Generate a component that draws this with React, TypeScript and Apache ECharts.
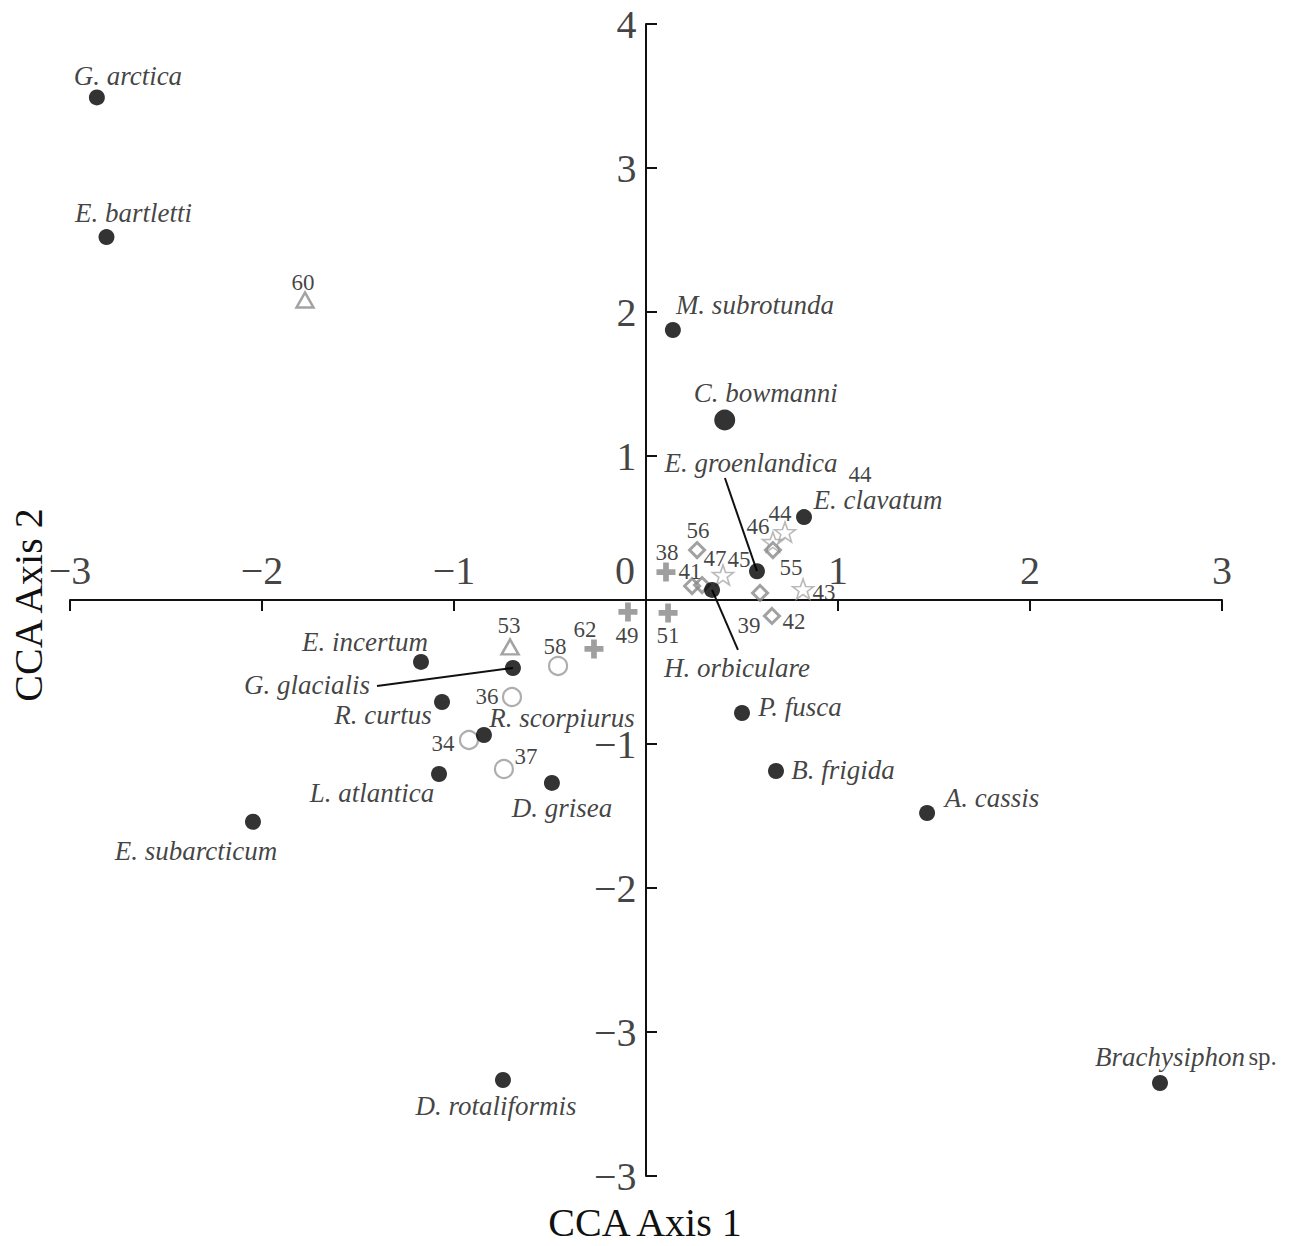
import React, { useEffect, useRef } from 'react';
import * as echarts from 'echarts';

// ---- axis ticks ----
const X_TICKS = [-3, -2, -1, 0, 1, 2, 3];
const X_TICK_LABELS = ['−3', '−2', '−1', '0', '1', '2', '3'];
const Y_TICKS = [-4, -3, -2, -1, 0, 1, 2, 3, 4];
const Y_TICK_LABELS = ['−3', '−3', '−2', '−1', '', '1', '2', '3', '4'];

const X_TITLE = 'CCA Axis 1';
const Y_TITLE = 'CCA Axis 2';

// ---- species scores ----
const SPECIES_NAMES = [
  'G. arctica', 'E. bartletti', 'M. subrotunda', 'C. bowmanni', 'E. groenlandica',
  'E. clavatum', 'H. orbiculare', 'E. incertum', 'G. glacialis', 'R. curtus',
  'R. scorpiurus', 'L. atlantica', 'D. grisea', 'E. subarcticum', 'P. fusca',
  'B. frigida', 'A. cassis', 'D. rotaliformis', 'Brachysiphon sp.',
];
const SPECIES_X = [
  -2.86, -2.81, 0.14, 0.41, 0.578,
  0.823, 0.344, -1.172, -0.693, -1.0625,
  -0.844, -1.078, -0.49, -2.047, 0.5,
  0.677, 1.464, -0.745, 2.677,
];
const SPECIES_Y = [
  3.49, 2.52, 1.875, 1.25, 0.2,
  0.576, 0.07, -0.43, -0.472, -0.708,
  -0.9375, -1.208, -1.27, -1.54, -0.785,
  -1.1875, -1.479, -3.333, -3.354,
];
const SPECIES_BIG = ['C. bowmanni'];

// ---- site scores ----
const SITE_IDS = [
  '60', '53', '58', '36', '34', '37',
  '62', '49', '51', '38',
  '56', '41', '', '47', '45', '55', '43', '42', '39', '46', '', '44', '44',
];
const SITE_X = [
  -1.776, -0.708, -0.458, -0.698, -0.922, -0.74,
  -0.271, -0.094, 0.115, 0.104,
  0.266, 0.24, 0.292, 0.401, 0.578, 0.594, 0.818, 0.656, 0.536, 0.661, 0.661, 0.724, 1.089,
];
const SITE_Y = [
  2.083, -0.326, -0.458, -0.674, -0.972, -1.174,
  -0.34, -0.083, -0.09, 0.194,
  0.347, 0.097, 0.104, 0.174, 0.2, 0.049, 0.076, -0.111, -0.174, 0.403, 0.347, 0.472, 0.847,
];
const SITE_MARKERS = [
  'triangle', 'triangle', 'circle', 'circle', 'circle', 'circle',
  'plus', 'plus', 'plus', 'plus',
  'diamond', 'diamond', 'diamond', 'star', 'none', 'diamond', 'star', 'diamond', 'none', 'star', 'diamond', 'star', 'none',
];

// ---- leader lines (label end -> point) ----
const LEADERS: [number, number, number, number][] = [
  [0.411, 0.847, 0.578, 0.2],
  [0.344, 0.07, 0.479, -0.347],
  [-1.401, -0.597, -0.693, -0.472],
];

// ---- layout: label offsets in px (label centre relative to point) ----
const SPECIES_LABEL_OFFSETS: [number, number][] = [
  [31, -21], [27, -24], [82, -25], [41, -27], [-6, -108],
  [74, -17], [25, 78], [-56, -20], [-206, 17], [-59, 13],
  [78, -17], [-67, 19], [10, 25], [-57, 29], [58, -6],
  [67, -1], [65, -15], [-7, 26], [26, -26],
];
const SITE_LABEL_OFFSETS: [number, number][] = [
  [-2, -18], [-1, -21], [-3, -19], [-25, -1], [-26, 4], [22, -13],
  [-9, -19], [-1, 24], [0, 23], [1, -20],
  [1, -20], [-2, -15], [0, 0], [-8, -16], [-18, -12], [31, -25], [21, 3], [22, 6], [0, 0], [-15, -15], [0, 0], [-5, -19], [5, -4],
];

const INK = '#111111';
const SERIF = '"Liberation Serif", "Times New Roman", serif';

const STAR_PATH =
  'path://M0 -100 L23.5 -32.4 L95.1 -30.9 L38 12.4 L58.8 80.9 L0 40 L-58.8 80.9 L-38 12.4 L-95.1 -30.9 L-23.5 -32.4 Z';
const PLUS_PATH = 'path://M35 0 H65 V35 H100 V65 H65 V100 H35 V65 H0 V35 H35 Z';

const MARKER_STYLES: Record<string, any> = {
  triangle: {
    symbol: 'triangle', symbolSize: [17, 15],
    itemStyle: { color: 'rgba(255,255,255,0)', borderColor: '#8c8c8c', borderWidth: 2.5 },
  },
  circle: {
    symbol: 'circle', symbolSize: 18,
    itemStyle: { color: 'rgba(255,255,255,0)', borderColor: '#9a9a9a', borderWidth: 2.2 },
  },
  plus: {
    symbol: PLUS_PATH, symbolSize: 19,
    itemStyle: { color: '#878787', borderWidth: 0 },
  },
  diamond: {
    symbol: 'diamond', symbolSize: [15, 15],
    itemStyle: { color: 'rgba(255,255,255,0)', borderColor: '#8a8a8a', borderWidth: 3 },
  },
  star: {
    symbol: STAR_PATH, symbolSize: [21, 20],
    itemStyle: { color: 'rgba(255,255,255,0)', borderColor: '#a8a8a8', borderWidth: 1.6 },
  },
  none: {
    symbol: 'circle', symbolSize: 1,
    itemStyle: { color: 'rgba(0,0,0,0)', borderWidth: 0 },
  },
};

const HIDDEN_POINT = { color: 'rgba(0,0,0,0)', borderWidth: 0 };

export default function App() {
  const ref = useRef<HTMLDivElement>(null);

  useEffect(() => {
    if (!ref.current) return;
    const chart = echarts.init(ref.current, undefined, { renderer: 'svg' });

    const speciesData = SPECIES_NAMES.map((name, i) => ({
      name,
      value: [SPECIES_X[i], SPECIES_Y[i]],
      symbolSize: SPECIES_BIG.includes(name) ? 21 : 16,
      label: { offset: SPECIES_LABEL_OFFSETS[i] },
    }));

    const siteData = SITE_IDS.map((id, i) => {
      const m = MARKER_STYLES[SITE_MARKERS[i]];
      return {
        name: id,
        value: [SITE_X[i], SITE_Y[i]],
        symbol: m.symbol,
        symbolSize: m.symbolSize,
        itemStyle: m.itemStyle,
        label: { show: id !== '', offset: SITE_LABEL_OFFSETS[i] },
      };
    });

    const leaderData = LEADERS.map((l) => ({ coords: [[l[0], l[1]], [l[2], l[3]]] }));

    const xTickData = X_TICKS.map((v, i) => ({
      name: X_TICK_LABELS[i],
      value: [v, 0],
      label: { offset: v === 0 ? [-21, 0] : [0, 0] },
    }));
    const yTickData = Y_TICKS.map((v, i) => ({
      name: Y_TICK_LABELS[i],
      value: [0, v],
      label: { show: Y_TICK_LABELS[i] !== '' },
    }));

    const tickFont = { color: INK, fontFamily: SERIF, fontSize: 40, textBorderWidth: 0 };

    const option: any = {
      animation: false,
      backgroundColor: '#ffffff',
      grid: { left: 70, right: 76, top: 24, bottom: 70, containLabel: false },
      xAxis: {
        type: 'value',
        min: -3,
        max: 3,
        interval: 1,
        splitLine: { show: false },
        axisLine: { onZero: true, lineStyle: { color: INK, width: 2 } },
        axisTick: { show: true, inside: false, length: 11, lineStyle: { color: INK, width: 2 } },
        axisLabel: { show: false },
      },
      yAxis: {
        type: 'value',
        min: -4,
        max: 4,
        interval: 1,
        splitLine: { show: false },
        axisLine: { onZero: true, lineStyle: { color: INK, width: 2 } },
        axisTick: { show: true, inside: true, length: 11, lineStyle: { color: INK, width: 2 } },
        axisLabel: { show: false },
      },
      series: [
        {
          type: 'scatter',
          name: 'xTickLabels',
          z: 1,
          clip: false,
          silent: true,
          symbol: 'circle',
          symbolSize: 1,
          itemStyle: HIDDEN_POINT,
          data: xTickData,
          label: {
            show: true,
            position: 'top',
            distance: 9,
            formatter: (p: any) => p.name,
            ...tickFont,
          },
          emphasis: { disabled: true },
        },
        {
          type: 'scatter',
          name: 'yTickLabels',
          z: 1,
          clip: false,
          silent: true,
          symbol: 'circle',
          symbolSize: 1,
          itemStyle: HIDDEN_POINT,
          data: yTickData,
          label: {
            position: 'left',
            distance: 9,
            formatter: (p: any) => p.name,
            ...tickFont,
          },
          emphasis: { disabled: true },
        },
        {
          type: 'scatter',
          name: 'sites',
          z: 2,
          data: siteData,
          label: {
            show: true,
            position: 'inside',
            formatter: (p: any) => p.name,
            color: INK,
            fontFamily: SERIF,
            fontSize: 23,
            textBorderWidth: 0,
          },
          emphasis: { disabled: true },
        },
        {
          type: 'lines',
          name: 'leaders',
          coordinateSystem: 'cartesian2d',
          z: 3,
          polyline: false,
          symbol: ['none', 'none'],
          lineStyle: { color: INK, width: 2, opacity: 1 },
          data: leaderData,
          emphasis: { disabled: true },
        },
        {
          type: 'scatter',
          name: 'species',
          z: 4,
          data: speciesData,
          itemStyle: { color: '#000000' },
          label: {
            show: true,
            position: 'inside',
            formatter: (p: any) => {
              const n: string = p.name;
              if (n.endsWith(' sp.')) {
                return '{i|' + n.slice(0, -4) + '} {n|sp.}';
              }
              return '{i|' + n + '}';
            },
            color: INK,
            textBorderWidth: 0,
            rich: {
              i: { fontFamily: SERIF, fontStyle: 'italic', fontSize: 27, color: INK },
              n: { fontFamily: SERIF, fontStyle: 'normal', fontSize: 25, color: INK },
            },
          },
          emphasis: { disabled: true },
        },
      ],
      graphic: [
        {
          type: 'text',
          x: 645,
          y: 1222,
          style: {
            text: X_TITLE,
            font: '40px ' + SERIF,
            fill: INK,
            align: 'center',
            verticalAlign: 'middle',
          },
        },
        {
          type: 'text',
          x: 28,
          y: 605,
          rotation: Math.PI / 2,
          style: {
            text: Y_TITLE,
            font: '40px ' + SERIF,
            fill: INK,
            align: 'center',
            verticalAlign: 'middle',
          },
        },
      ],
    };

    chart.setOption(option);
    return () => chart.dispose();
  }, []);

  return (
    <div
      ref={ref}
      style={{ position: 'fixed', left: 0, top: 0, width: 1298, height: 1246, background: '#fff' }}
    />
  );
}
